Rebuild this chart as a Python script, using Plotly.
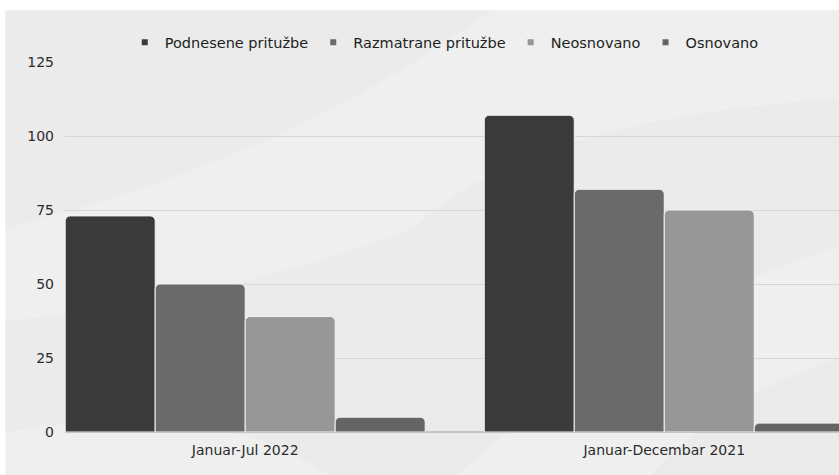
#! /usr/bin/env python3

import plotly.graph_objects as go

categories = ["Januar-Jul 2022", "Januar-Decembar 2021"]

seriesNames = ["Podnesene pritužbe",
               "Razmatrane pritužbe",
               "Neosnovano",
               "Osnovano"]

podnesene = [73, 107]
razmatrane = [50, 82]
neosnovano = [39, 75]
osnovano = [5, 3]

seriesValues = [podnesene, razmatrane, neosnovano, osnovano]
seriesColors = ["#3a3a3a", "#6a6a6a", "#979797", "#646464"]

yTicks = [0, 25, 50, 75, 100, 125]

fig = go.Figure()

for name, vals, col in zip(seriesNames, seriesValues, seriesColors):
    fig.add_trace(go.Bar(
        x=categories,
        y=vals,
        name=name,
        showlegend=False,
        marker=dict(color=col, line=dict(color="#f2f2f2", width=1), cornerradius=5)
    ))

# small square legend markers, like the original
for name, col in zip(seriesNames, seriesColors):
    fig.add_trace(go.Scatter(
        x=[None], y=[None], mode="markers", name=name,
        marker=dict(symbol="square", size=6, color=col)
    ))

# light grey backdrop with a few soft waves (the slide background)
fig.add_shape(type="rect", xref="paper", yref="paper",
              x0=-0.077, x1=1.0, y0=-0.13, y1=1.14,
              fillcolor="#ebebeb", line=dict(width=0), layer="below")
fig.add_shape(type="path", xref="paper", yref="paper", layer="below",
              path="M -0.077 0.55 Q 0.3 0.75 0.55 1.14 L 1.0 1.14 L 1.0 0.9 Q 0.6 0.85 0.45 0.55 Q 0.2 0.35 -0.077 0.3 Z",
              fillcolor="rgba(255,255,255,0.2)", line=dict(width=0))
fig.add_shape(type="path", xref="paper", yref="paper", layer="below",
              path="M 0.5 -0.13 Q 0.75 0.35 1.0 0.5 L 1.0 0.2 Q 0.85 0.1 0.75 -0.13 Z",
              fillcolor="rgba(255,255,255,0.2)", line=dict(width=0))
fig.add_shape(type="path", xref="paper", yref="paper", layer="below",
              path="M -0.077 0.0 Q 0.2 0.1 0.35 -0.13 L -0.077 -0.13 Z",
              fillcolor="rgba(255,255,255,0.2)", line=dict(width=0))

fig.update_layout(
    width=839,
    height=475,
    margin=dict(l=65, r=0, t=62, b=43),
    paper_bgcolor="white",
    plot_bgcolor="rgba(0,0,0,0)",
    barmode="group",
    bargap=0.141,
    bargroupgap=0,
    font=dict(family="DejaVu Sans, sans-serif", size=14, color="#2b2b2b"),
    showlegend=True,
    legend=dict(orientation="h", x=0.49, xanchor="center", y=1.01, yanchor="bottom",
                font=dict(size=14.5, color="#1e1e1e"), bgcolor="rgba(0,0,0,0)",
                itemwidth=30, traceorder="normal"),
)

fig.update_xaxes(range=[-0.43, 1.417], showgrid=False, ticks="", showline=False,
                 ticklabelstandoff=8, tickfont=dict(size=14, color="#2b2b2b"))
fig.update_yaxes(range=[0, 125], tickvals=yTicks, showgrid=True, gridcolor="#d6d6d6",
                 gridwidth=1, zeroline=True, zerolinecolor="#c4c4c4", zerolinewidth=1.5,
                 ticks="", ticklabelstandoff=10, tickfont=dict(size=14, color="#2b2b2b"))

fig.write_html("out.html", config={"displayModeBar": False},
               post_script="document.body.style.margin='0';")
